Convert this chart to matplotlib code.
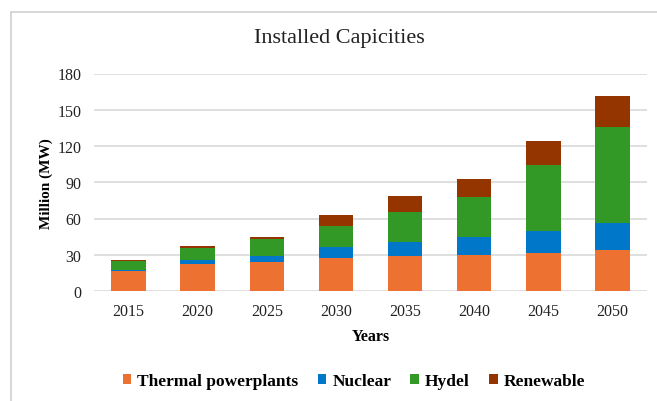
import matplotlib
matplotlib.use("Agg")
import matplotlib.pyplot as plt
import numpy as np
from matplotlib.patches import Rectangle

years = ["2015", "2020", "2025", "2030", "2035", "2040", "2045", "2050"]
thermal = [16.5, 22.6, 24.2, 27.5, 28.8, 29.9, 31.5, 33.8]
nuclear = [0.9, 3.0, 5.0, 8.6, 11.6, 14.9, 18.3, 22.6]
hydel = [7.4, 9.6, 13.8, 17.7, 25.1, 32.7, 54.5, 79.1]
renewable = [0.5, 2.0, 1.9, 9.3, 12.8, 15.2, 19.6, 26.2]
series_names = ["Thermal powerplants", "Nuclear", "Hydel", "Renewable"]
yticks = [0, 30, 60, 90, 120, 150, 180]

colors = ["#ED7130", "#0077C8", "#339926", "#943500"]
plt.rcParams["font.family"] = ["Liberation Serif", "DejaVu Serif"]

fig = plt.figure(figsize=(6.57, 4.02), dpi=100)
ax = fig.add_axes([94 / 657, 1 - 292 / 402, 553 / 657, 217.5 / 402])

x = np.arange(len(years))
bottom = np.zeros(len(years))
for name, vals, c in zip(series_names, [thermal, nuclear, hydel, renewable], colors):
    ax.bar(x, vals, width=0.5, bottom=bottom, color=c, label=name, zorder=3)
    bottom += np.array(vals)

ax.set_xlim(-0.5, len(years) - 0.5)
ax.set_ylim(0, 180)
ax.set_yticks(yticks)
ax.set_xticks(x)
ax.set_xticklabels(years)
ax.tick_params(length=0, labelsize=11.5, colors="#222222")
ax.tick_params(axis="y", pad=9)
ax.tick_params(axis="x", pad=9)
ax.grid(axis="y", color="#D9D9D9", linewidth=1.2, zorder=0)
for s in ax.spines.values():
    s.set_visible(False)

ax.set_ylabel("Million (MW)", fontsize=11, fontweight="bold", labelpad=3)
ax.set_xlabel("Years", fontsize=11.5, fontweight="bold", labelpad=6)
fig.text(339 / 657, 1 - 38 / 402, "Installed Capicities", fontsize=16,
         ha="center", va="center", color="#222222")

fig.legend(loc="center", bbox_to_anchor=(354 / 657, 1 - 382 / 402), ncol=4,
           frameon=False, prop={"weight": "bold", "size": 12.5},
           handlelength=0.5, handleheight=0.5, handletextpad=0.35,
           columnspacing=1.1)

# light frame around the chart
fig.patches.append(Rectangle((11 / 657, -0.1), 1.2, 1 - 12.5 / 402 + 0.1,
                             transform=fig.transFigure, fill=False,
                             edgecolor="#D0D0D0", linewidth=1.2))

fig.savefig("out.png", dpi=100)
